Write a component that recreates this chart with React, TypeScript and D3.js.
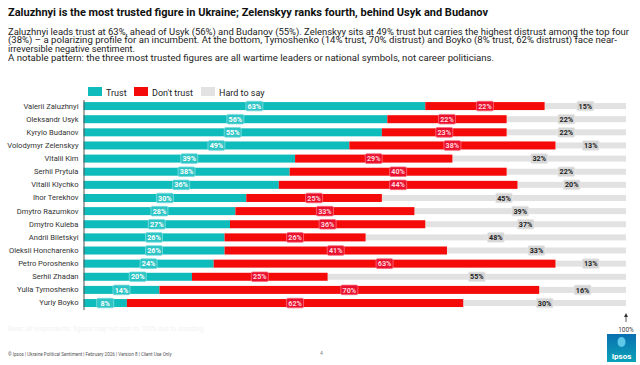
import React, { useEffect, useRef } from "react";
import * as d3 from "d3";

const names = [
  "Valerii Zaluzhnyi",
  "Oleksandr Usyk",
  "Kyrylo Budanov",
  "Volodymyr Zelenskyy",
  "Vitalii Kim",
  "Serhii Prytula",
  "Vitalii Klychko",
  "Ihor Terekhov",
  "Dmytro Razumkov",
  "Dmytro Kuleba",
  "Andrii Biletskyi",
  "Oleksii Honcharenko",
  "Petro Poroshenko",
  "Serhii Zhadan",
  "Yulia Tymoshenko",
  "Yuriy Boyko",
];
const trust = [63, 56, 55, 49, 39, 38, 36, 30, 28, 27, 26, 26, 24, 20, 14, 8];
const distrust = [22, 22, 23, 38, 29, 40, 44, 25, 33, 36, 26, 41, 63, 25, 70, 62];
const hardToSay = [15, 22, 22, 13, 32, 22, 20, 45, 39, 37, 48, 33, 13, 55, 16, 30];

const legendLabels = ["Trust", "Don't trust", "Hard to say"];

const title =
  "Zaluzhnyi is the most trusted figure in Ukraine; Zelenskyy ranks fourth, behind Usyk and Budanov";
const subtitle = [
  "Zaluzhnyi leads trust at 63%, ahead of Usyk (56%) and Budanov (55%). Zelenskyy sits at 49% trust but carries the highest distrust among the top four",
  "(38%) \u2013 a polarizing profile for an incumbent. At the bottom, Tymoshenko (14% trust, 70% distrust) and Boyko (8% trust, 62% distrust) face near-",
  "irreversible negative sentiment.",
  "A notable pattern: the three most trusted figures are all wartime leaders or national symbols, not career politicians.",
];
const footer =
  "\u00a9 Ipsos | Ukraine Political Sentiment | February 2026 | Version 8 | Client Use Only";

const TEAL = "#0fbcbc";
const RED = "#f50a0a";
const GRAY = "#e2e2e2";
const FONT = "Roboto, 'Noto Sans', sans-serif";

const App: React.FC = () => {
  const svgRef = useRef<SVGSVGElement | null>(null);

  useEffect(() => {
    if (!svgRef.current) return;
    const svg = d3.select(svgRef.current);
    svg.selectAll("*").remove();
    svg.attr("font-family", FONT);

    svg.append("rect").attr("width", 640).attr("height", 365).attr("fill", "#fff");

    // header
    svg
      .append("text")
      .attr("x", 8)
      .attr("y", 16)
      .attr("font-size", 11)
      .attr("font-weight", 700)
      .attr("fill", "#111")
      .attr("textLength", 480)
      .attr("lengthAdjust", "spacingAndGlyphs")
      .text(title);

    const subW = [621, 609, 127, 486];
    subtitle.forEach((line, i) => {
      svg
        .append("text")
        .attr("x", 8)
        .attr("y", 34.5 + i * 8.8)
        .attr("font-size", 8.6)
        .attr("fill", "#222")
        .attr("textLength", subW[i])
        .attr("lengthAdjust", "spacingAndGlyphs")
        .text(line);
    });

    const x = d3.scaleLinear().domain([0, 100]).range([83.5, 626]);
    const y = d3.scaleBand<string>().domain(names).range([99.5, 309.6]);
    const mid = (n: string) => (y(n) ?? 0) + y.bandwidth() / 2;

    // legend
    const legendX = [88, 134, 201];
    const legendColors = [TEAL, RED, GRAY];
    legendLabels.forEach((l, i) => {
      svg
        .append("rect")
        .attr("x", legendX[i])
        .attr("y", 87)
        .attr("width", 14)
        .attr("height", 9)
        .attr("fill", legendColors[i]);
      svg
        .append("text")
        .attr("x", legendX[i] + 18)
        .attr("y", 95.5)
        .attr("font-size", 9)
        .attr("fill", "#222")
        .text(l);
    });

    const rows = names.map((n, i) => ({
      name: n,
      t: trust[i],
      d: distrust[i],
      h: hardToSay[i],
    }));

    // bars
    const g = svg.append("g");
    rows.forEach((r) => {
      const cy = mid(r.name);
      g.append("rect")
        .attr("x", x(r.t + r.d))
        .attr("y", cy - 3)
        .attr("width", x(100) - x(r.t + r.d))
        .attr("height", 6)
        .attr("fill", GRAY);
      g.append("rect")
        .attr("x", x(0))
        .attr("y", cy - 4)
        .attr("width", x(r.t) - x(0))
        .attr("height", 8)
        .attr("fill", TEAL);
      g.append("rect")
        .attr("x", x(r.t))
        .attr("y", cy - 4)
        .attr("width", x(r.t + r.d) - x(r.t))
        .attr("height", 8)
        .attr("fill", RED);
    });

    // value labels
    const label = (cx: number, cy: number, v: number, fill: string, stroke: string, color: string) => {
      g.append("rect")
        .attr("x", cx - 8.5)
        .attr("y", cy - 4.8)
        .attr("width", 17)
        .attr("height", 9.6)
        .attr("rx", 1.5)
        .attr("fill", fill)
        .attr("stroke", stroke)
        .attr("stroke-width", 0.8);
      g.append("text")
        .attr("x", cx)
        .attr("y", cy + 2.6)
        .attr("text-anchor", "middle")
        .attr("font-size", 7.2)
        .attr("font-weight", 700)
        .attr("fill", color)
        .text(`${v}%`);
    };
    rows.forEach((r) => {
      const cy = mid(r.name);
      label(x(r.t / 2), cy, r.t, "#2cc4c4", "#7fdede", "#fff");
      label(x(r.t + r.d / 2), cy, r.d, "#e8102c", "#ff6f7f", "#ffd6dc");
      label(x(r.t + r.d + r.h / 2), cy, r.h, "#d6d6d6", "#e8e8e8", "#222");
    });

    // name axis
    const yAxis = svg
      .append("g")
      .attr("transform", `translate(${x(0)},0)`)
      .call(d3.axisLeft(y).tickSize(0).tickPadding(5));
    yAxis.select(".domain").attr("stroke", "#555").attr("stroke-width", 1);
    yAxis
      .selectAll("text")
      .attr("font-family", FONT)
      .attr("font-size", 7.6)
      .attr("fill", "#333");

    // 100% marker
    svg
      .append("line")
      .attr("x1", x(100))
      .attr("x2", x(100))
      .attr("y1", 322)
      .attr("y2", 315)
      .attr("stroke", "#333")
      .attr("stroke-width", 0.8);
    svg
      .append("path")
      .attr("d", `M${x(100) - 2},${317} L${x(100)},${313} L${x(100) + 2},${317} Z`)
      .attr("fill", "#333");
    svg
      .append("text")
      .attr("x", x(100))
      .attr("y", 332)
      .attr("text-anchor", "middle")
      .attr("font-size", 6.5)
      .attr("fill", "#444")
      .text("100%");

    // faint note
    svg
      .append("text")
      .attr("x", 8)
      .attr("y", 331)
      .attr("font-size", 6.5)
      .attr("fill", "#f2f2f2")
      .text("Base: all respondents; figures may not sum to 100% due to rounding");

    // footer
    svg
      .append("text")
      .attr("x", 8)
      .attr("y", 356)
      .attr("font-size", 4.6)
      .attr("fill", "#555")
      .text(footer);
    svg
      .append("text")
      .attr("x", 320)
      .attr("y", 355)
      .attr("font-size", 5)
      .attr("fill", "#777")
      .text("4");

    // logo
    const grad = svg
      .append("defs")
      .append("linearGradient")
      .attr("id", "logo-grad")
      .attr("x1", "0%")
      .attr("y1", "0%")
      .attr("x2", "0%")
      .attr("y2", "100%");
    grad.append("stop").attr("offset", "0%").attr("stop-color", "#0a6fb0");
    grad.append("stop").attr("offset", "100%").attr("stop-color", "#0aa3b8");
    svg
      .append("rect")
      .attr("x", 607)
      .attr("y", 334)
      .attr("width", 29)
      .attr("height", 28)
      .attr("fill", "url(#logo-grad)");
    svg
      .append("ellipse")
      .attr("cx", 621.5)
      .attr("cy", 342)
      .attr("rx", 4)
      .attr("ry", 5)
      .attr("fill", "#5fc8e8");
    svg
      .append("text")
      .attr("x", 621.5)
      .attr("y", 359)
      .attr("text-anchor", "middle")
      .attr("font-size", 8)
      .attr("font-weight", 700)
      .attr("fill", "#fff")
      .text("Ipsos");
  }, []);

  return (
    <svg
      ref={svgRef}
      width={640}
      height={365}
      style={{ position: "absolute", left: 0, top: 0, display: "block" }}
    ></svg>
  );
};

export default App;
